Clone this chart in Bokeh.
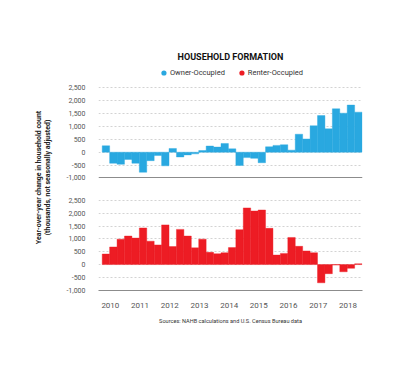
from bokeh.plotting import figure
from bokeh.models import (Range1d, FixedTicker, NumeralTickFormatter, Grid, Legend,
                          LegendItem, Title, ColumnDataSource)
from bokeh.embed import file_html
from bokeh.resources import INLINE

years = [2010, 2011, 2012, 2013, 2014, 2015, 2016, 2017, 2018]
quarters = [(y, q) for y in years for q in (1, 2, 3, 4)][:35]
owner = [250, -430, -470, -280,
         -430, -780, -330, -130,
         -530, 145, -185, -105,
         -65, 65, 240, 200,
         340, 130, -515, -210,
         -240, -410, 210, 265,
         290, 80, 700, 515,
         1030, 1425, 910, 1690,
         1520, 1835, 1560]
renter = [410, 685, 990, 1110,
          1030, 1425, 910, 765,
          1545, 700, 1370, 1110,
          650, 990, 475, 420,
          460, 660, 1360, 2205,
          2085, 2125, 1410, 370,
          435, 1055, 710, 530,
          460, -710, -355, -20,
          -280, -145, 30]
y_ticks = [-1000, -500, 0, 500, 1000, 1500, 2000, 2500]

BLUE = "#29a8e0"
RED = "#ed1c24"
FONT = "Roboto"
GRID = "#c8c8c8"
AXIS = "#8c8c8c"

xs = [y + (q - 1) / 4 - 0.15 for (y, q) in quarters]
src_owner = ColumnDataSource(dict(x=xs, top=owner))
src_renter = ColumnDataSource(dict(x=xs, top=renter))

# two panels stacked in one frame: owner uses the default y range, renter an extra range
X_START, X_END = 2009.6, 2018.49
OWN_START, OWN_END = -5385, 3415
REN_START, REN_END = -1010, 7790
OFFSET = OWN_START - REN_START

p = figure(width=405, height=336, output_backend="svg", toolbar_location=None,
           x_range=Range1d(X_START, X_END), y_range=Range1d(OWN_START, OWN_END),
           min_border_left=98, min_border_right=43, min_border_top=64,
           min_border_bottom=46)
p.extra_y_ranges = {"renter": Range1d(REN_START, REN_END)}
p.outline_line_color = None
p.background_fill_color = None
p.border_fill_color = None
p.xgrid.visible = False
p.ygrid.visible = False

p.add_layout(Grid(dimension=1, ticker=FixedTicker(ticks=y_ticks[1:]),
                  grid_line_color=GRID, grid_line_dash="2 2", grid_line_width=0.8))
p.add_layout(Grid(dimension=1, ticker=FixedTicker(ticks=[-1000]),
                  grid_line_color=AXIS, grid_line_width=1.2))
p.add_layout(Grid(dimension=1, y_range_name="renter",
                  ticker=FixedTicker(ticks=y_ticks[1:]),
                  grid_line_color=GRID, grid_line_dash="2 2", grid_line_width=0.8))

rb = p.vbar(x="x", top="top", bottom=0, width=0.25, source=src_owner,
            fill_color=BLUE, line_color=BLUE, line_width=0.4)
rr = p.vbar(x="x", top="top", bottom=0, width=0.25, source=src_renter,
            y_range_name="renter", fill_color=RED, line_color=RED, line_width=0.4)

# zero-size markers: invisible in the plot, but give round legend glyphs
lb = p.scatter(x="x", y="top", source=src_owner, size=0, fill_color=BLUE,
               line_color=None)
lr = p.scatter(x="x", y="top", source=src_renter, size=0, fill_color=RED,
               line_color=None, y_range_name="renter")
legend = Legend(items=[LegendItem(label="Owner-Occupied", renderers=[lb]),
                       LegendItem(label="Renter-Occupied", renderers=[lr])],
                orientation="horizontal", location="top_center",
                border_line_color=None, background_fill_alpha=0,
                label_text_font=FONT, label_text_font_size="7.5px",
                label_text_color="#333333", glyph_width=13, glyph_height=13,
                label_standoff=0, spacing=10, padding=0, margin=2)
p.add_layout(legend, "center")

ya = p.yaxis[0]
ren_ticks = [v + OFFSET for v in y_ticks]
ya.ticker = FixedTicker(ticks=y_ticks + ren_ticks)
ya.formatter = NumeralTickFormatter(format="0,0")
ya.major_label_overrides = {v + OFFSET: f"{v:,}" for v in y_ticks}
ya.axis_line_color = None
ya.major_tick_line_color = None
ya.minor_tick_line_color = None
ya.major_label_standoff = 7
ya.major_label_text_font = FONT
ya.major_label_text_font_size = "7px"
ya.major_label_text_color = "#555555"
ya.axis_label = "Year-over-year change in household count\n(thousands, not seasonally adjusted)"
ya.axis_label_standoff = 11
ya.axis_label_text_font = FONT
ya.axis_label_text_font_size = "7px"
ya.axis_label_text_font_style = "bold"
ya.axis_label_text_color = "#222222"
ya.axis_label_text_line_height = 1.2

xa = p.xaxis[0]
xa.ticker = FixedTicker(ticks=years)
xa.axis_line_color = AXIS
xa.axis_line_width = 1.2
xa.major_tick_line_color = None
xa.minor_tick_line_color = None
xa.major_label_standoff = 6
xa.major_label_text_font = FONT
xa.major_label_text_font_size = "8px"
xa.major_label_text_color = "#555555"

p.title.text = "HOUSEHOLD FORMATION"
p.title.align = "center"
p.title.text_font = FONT
p.title.text_font_size = "9px"
p.title.text_font_style = "bold"
p.title.text_color = "#111111"
p.title.standoff = 6

p.add_layout(Title(text="Sources: NAHB calculations and U.S. Census Bureau data",
                   align="center", offset=22, text_font=FONT,
                   text_font_size="5.6px", text_font_style="normal",
                   text_color="#333333", standoff=10), "below")

open("out.html", "w").write(file_html(p, INLINE))
